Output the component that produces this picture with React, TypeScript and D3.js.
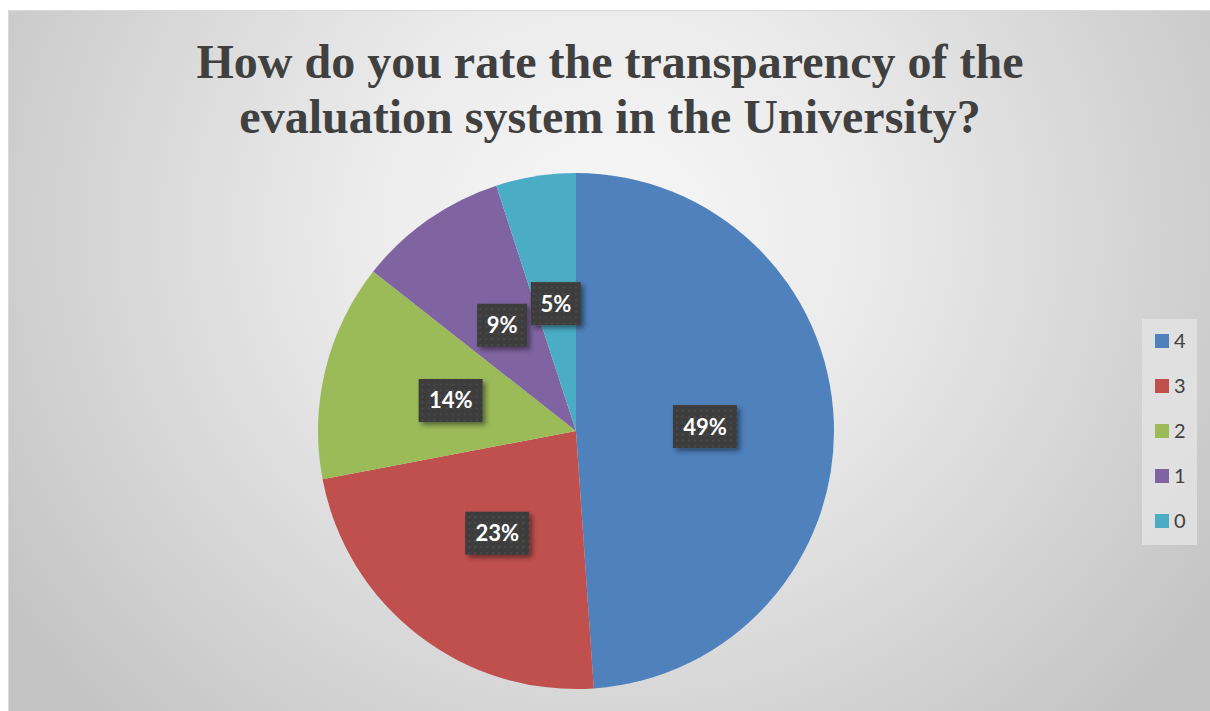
import React from "react";
import * as d3 from "d3";

const categories = ["4", "3", "2", "1", "0"];
const values = [48.9, 23.1, 13.6, 9.4, 5.0];
const colors = ["#4F81BD", "#C0504D", "#9BBB59", "#8064A2", "#4BACC6"];
const titleLines = [
  "How do you rate the transparency of the",
  "evaluation system in the University?",
];

const W = 1210;
const H = 711;
const cx = 576;
const cy = 431;
const R = 258;

export default function App() {
  const data = categories.map((c, i) => ({ cat: c, value: values[i], color: colors[i] }));
  const pie = d3
    .pie<{ cat: string; value: number; color: string }>()
    .sort(null)
    .value((d) => d.value)
    .startAngle(0)
    .endAngle(2 * Math.PI);
  const arcs = pie(data);
  const arc = d3.arc<d3.PieArcDatum<any>>().innerRadius(0).outerRadius(R);
  const total = d3.sum(values);
  const fmt = (v: number) => `${Math.round((v / total) * 100)}%`;

  const legendY = d3.scalePoint<string>().domain(categories).range([341, 521]);

  return (
    <svg
      width={W}
      height={H}
      style={{ position: "absolute", left: 0, top: 0, display: "block" }}
    >
      <defs>
        <radialGradient
          id="bg"
          gradientUnits="userSpaceOnUse"
          cx={610}
          cy={230}
          r={720}
          gradientTransform="translate(610 230) scale(1 0.95) translate(-610 -230)"
        >
          <stop offset="0" stopColor="#f7f7f7" />
          <stop offset="0.35" stopColor="#ebebeb" />
          <stop offset="0.7" stopColor="#d6d6d6" />
          <stop offset="1" stopColor="#c4c4c4" />
        </radialGradient>
        <pattern id="dots" width="6" height="6" patternUnits="userSpaceOnUse">
          <rect width="6" height="6" fill="#3d3d3d" />
          <rect x="1" y="1" width="2" height="2" fill="#4a4a4a" />
        </pattern>
        <filter id="shadow" x="-30%" y="-30%" width="160%" height="160%">
          <feDropShadow dx="3" dy="3" stdDeviation="2.5" floodColor="#000" floodOpacity="0.45" />
        </filter>
      </defs>
      <rect x={0} y={0} width={W} height={H} fill="#ffffff" />
      <rect x={8.5} y={10.5} width={W + 10} height={H + 10} fill="url(#bg)" stroke="#d9d9d9" strokeWidth={1} />

      <g fontFamily="'Liberation Serif', 'Times New Roman', serif" fontWeight="bold" fontSize={48} fill="#404040" textAnchor="middle">
        {titleLines.map((t, i) => (
          <text key={i} x={610} y={78 + i * 55}>
            {t}
          </text>
        ))}
      </g>

      <g transform={`translate(${cx},${cy})`}>
        {arcs.map((a, i) => (
          <path key={i} d={arc(a) || ""} fill={a.data.color} />
        ))}
        {arcs.map((a, i) => {
          const [x, y] = arc.centroid(a);
          const label = fmt(a.data.value);
          const w = label.length * 14 + 22;
          const h = 43;
          return (
            <g key={"l" + i} transform={`translate(${x},${y})`}>
              <rect x={-w / 2} y={-h / 2} width={w} height={h} fill="url(#dots)" filter="url(#shadow)" />
              <text
                x={0}
                y={8}
                textAnchor="middle"
                fontFamily="Lato, 'Open Sans', sans-serif"
                fontWeight="bold"
                fontSize={22}
                fill="#ffffff"
              >
                {label}
              </text>
            </g>
          );
        })}
      </g>

      <rect x={1142} y={319} width={55} height={226} fill="#e3e3e3" opacity={0.85} />
      {categories.map((c, i) => (
        <g key={c} transform={`translate(0,${legendY(c)})`}>
          <rect x={1155} y={-7} width={14} height={14} fill={colors[i]} />
          <text x={1174} y={7} fontFamily="Lato, 'Open Sans', sans-serif" fontSize={20} fill="#404040">
            {c}
          </text>
        </g>
      ))}
    </svg>
  );
}
